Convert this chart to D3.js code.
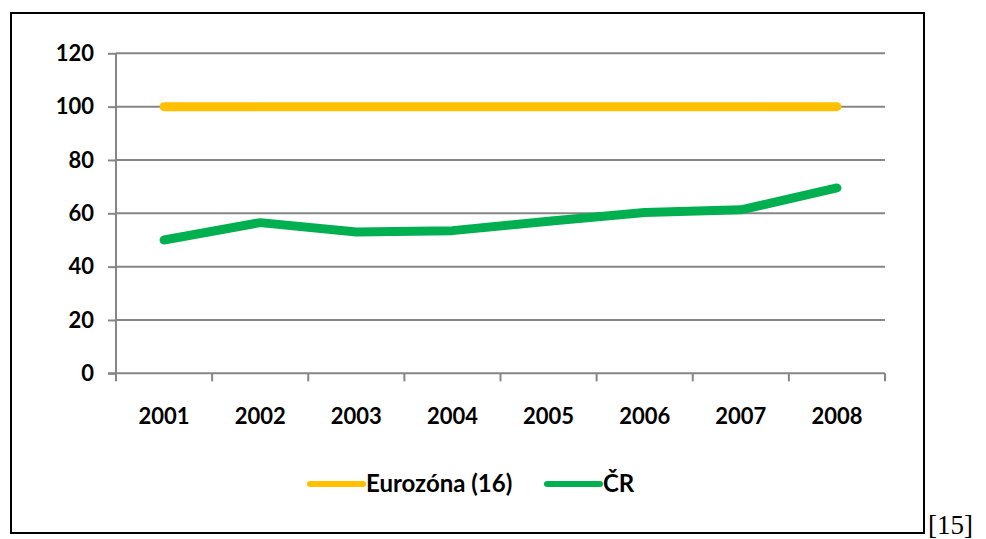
<!DOCTYPE html>
<html>
<head>
<meta charset="utf-8">
<script src="https://cdn.jsdelivr.net/npm/d3@7"></script>
<style>
  body { margin: 0; background: #fff; }
  svg text { font-family: Lato, "Open Sans", sans-serif; font-weight: bold; }
</style>
</head>
<body>
<div id="chart"></div>
<script>
// data
var years = ['2001', '2002', '2003', '2004', '2005', '2006', '2007', '2008']
var eurozona = [100, 100, 100, 100, 100, 100, 100, 100]
var cr = [50, 56.5, 53, 53.5, 57, 60.3, 61.3, 69.5]
var yTicks = [0, 20, 40, 60, 80, 100, 120]
var seriesNames = ['Eurozóna (16)', 'ČR']
var colors = ['#FFC000', '#00B050']

var W = 986, H = 539
var svg = d3.select('#chart').append('svg').attr('width', W).attr('height', H)

// outer frame
svg.append('rect')
  .attr('x', 11).attr('y', 13).attr('width', 913).attr('height', 520)
  .attr('fill', 'none').attr('stroke', '#000').attr('stroke-width', 2)

var pLeft = 116, pRight = 885, pTop = 53.3, pBottom = 373.3

var x = d3.scaleBand().domain(years).range([pLeft, pRight])
var y = d3.scaleLinear().domain([0, 120]).range([pBottom, pTop])

// gridlines
svg.append('g').selectAll('line').data(yTicks.slice(1)).join('line')
  .attr('x1', pLeft).attr('x2', pRight)
  .attr('y1', d => y(d)).attr('y2', d => y(d))
  .attr('stroke', '#868686').attr('stroke-width', 2)

// y axis
var yAxis = svg.append('g').attr('transform', 'translate(' + pLeft + ',0)')
  .call(d3.axisLeft(y).tickValues(yTicks).tickSize(8).tickPadding(14))
yAxis.select('.domain').attr('stroke', '#868686').attr('stroke-width', 2)
  .attr('d', 'M0,' + pBottom + 'V' + pTop)
yAxis.selectAll('.tick line').attr('stroke', '#868686').attr('stroke-width', 2)
yAxis.selectAll('.tick text').attr('font-size', 22).attr('fill', '#000')
  .style('font-family', 'Lato, sans-serif').style('font-weight', 'bold')

// x axis: ticks at category boundaries
var xg = svg.append('g').attr('transform', 'translate(0,' + pBottom + ')')
xg.append('line').attr('x1', pLeft - 8).attr('x2', pRight)
  .attr('stroke', '#868686').attr('stroke-width', 2)
var bounds = years.map(d => x(d)).concat([pRight])
xg.selectAll('line.tk').data(bounds).join('line').attr('class', 'tk')
  .attr('x1', d => d).attr('x2', d => d).attr('y1', 0).attr('y2', 8)
  .attr('stroke', '#868686').attr('stroke-width', 2)
xg.selectAll('text').data(years).join('text')
  .attr('x', d => x(d) + x.bandwidth() / 2).attr('y', 51)
  .attr('text-anchor', 'middle').attr('font-size', 22).attr('fill', '#000')
  .text(d => d)

// lines
var line = d3.line()
  .x((d, i) => x(years[i]) + x.bandwidth() / 2)
  .y(d => y(d))

;[eurozona, cr].forEach(function(s, i){
  svg.append('path').attr('d', line(s))
    .attr('fill', 'none').attr('stroke', colors[i]).attr('stroke-width', 9)
    .attr('stroke-linecap', 'round').attr('stroke-linejoin', 'round')
})

// legend
var legX = [310, 547]
seriesNames.forEach(function(n, i){
  svg.append('line').attr('x1', legX[i]).attr('x2', legX[i] + 53)
    .attr('y1', 484).attr('y2', 484)
    .attr('stroke', colors[i]).attr('stroke-width', 6).attr('stroke-linecap', 'round')
  svg.append('text').attr('x', legX[i] + 56).attr('y', 492)
    .attr('font-size', 24).attr('fill', '#000').text(n)
})

// reference mark
svg.append('text').attr('x', 928).attr('y', 534)
  .style('font-family', '"Liberation Serif", "Times New Roman", serif')
  .style('font-weight', 'normal')
  .attr('font-size', 27).attr('fill', '#000').text('[15]')
</script>
</body>
</html>
